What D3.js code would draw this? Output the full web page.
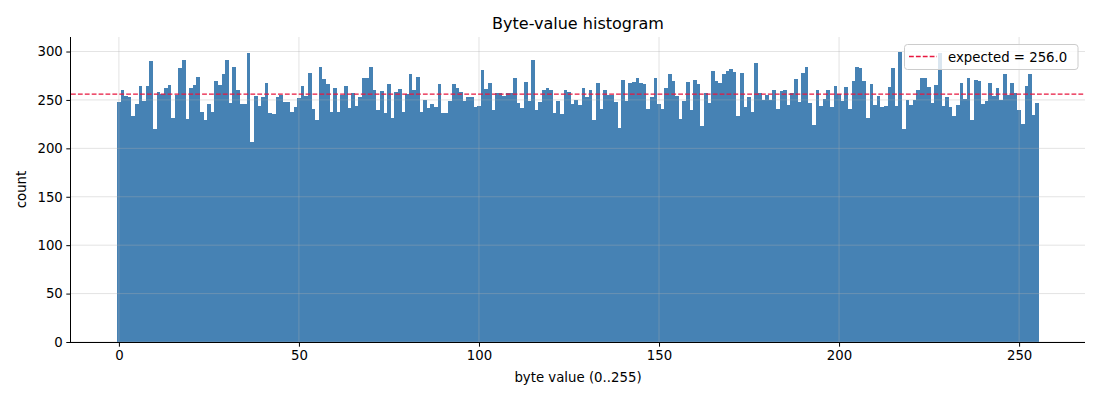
<!DOCTYPE html>
<html>
<head>
<meta charset="utf-8">
<script src="https://cdn.jsdelivr.net/npm/d3@7"></script>
<style>
  html, body { margin: 0; padding: 0; background: #fff; }
  svg { display: block; font-family: "DejaVu Sans", sans-serif; }
</style>
</head>
<body>
<svg id="chart" width="1100" height="400"></svg>
<script>
// ---- data ----
const counts = [
  248,260,254,253,233,246,264,249,264,290,220,258,256,262,265,231,
  255,283,291,230,262,265,274,238,229,246,238,270,265,277,291,247,
  284,260,246,246,298,207,254,244,253,268,237,235,253,255,248,248,
  238,243,252,264,254,278,241,229,284,272,266,238,262,238,255,264,
  242,257,244,253,273,273,284,260,240,259,236,266,231,258,261,238,
  256,277,260,274,238,250,242,246,243,266,237,237,249,266,262,258,
  249,253,253,243,244,281,261,268,240,257,257,254,257,257,273,247,
  242,269,249,291,240,248,260,262,260,236,249,235,260,258,246,250,
  245,262,253,260,229,268,241,260,255,255,248,221,271,249,268,269,
  273,267,266,241,253,273,246,241,262,277,270,254,230,249,269,240,
  271,266,223,257,247,280,270,268,277,280,282,279,233,278,243,253,
  238,288,257,250,255,250,260,241,259,260,245,257,272,248,278,284,
  247,224,260,244,251,260,243,264,256,249,263,241,270,284,283,270,
  231,266,245,254,243,244,263,283,244,300,220,250,245,250,260,273,
  273,263,247,265,298,244,253,243,233,245,267,251,273,229,271,270,
  246,249,267,254,262,250,277,255,267,257,240,225,264,277,234,247
];
const byteValues = d3.range(256);
const expected = 256.0;
const xTicks = [0, 50, 100, 150, 200, 250];
const yTicks = [0, 50, 100, 150, 200, 250, 300];
const title = "Byte-value histogram";
const xLabel = "byte value (0..255)";
const yLabel = "count";
const legendLabel = "expected = " + expected.toFixed(1);

// ---- layout ----
const svg = d3.select("#chart");
const L = 71, R = 1085, T = 37, B = 342;
const x = d3.scaleLinear().domain([-13.3, 268.3]).range([L, R]);
const y = d3.scaleLinear().domain([0, 315]).range([B, T]);

const barColor = "#4682b4";
const gridColor = "#b0b0b0";

// bars
svg.append("g").selectAll("rect").data(byteValues).join("rect")
  .attr("x", d => x(d - 0.5))
  .attr("width", d => x(d + 0.5) - x(d - 0.5))
  .attr("y", d => y(counts[d]))
  .attr("height", d => y(0) - y(counts[d]))
  .attr("fill", barColor)
  .attr("shape-rendering", "crispEdges");

// grid (above bars, like matplotlib default)
const grid = svg.append("g").attr("stroke", gridColor).attr("stroke-opacity", 0.35).attr("stroke-width", 1);
grid.selectAll("line.vx").data(xTicks).join("line")
  .attr("x1", d => x(d)).attr("x2", d => x(d)).attr("y1", T).attr("y2", B);
grid.selectAll("line.hy").data(yTicks).join("line")
  .attr("x1", L).attr("x2", R).attr("y1", d => y(d)).attr("y2", d => y(d));

// expected line
svg.append("line")
  .attr("x1", L).attr("x2", R)
  .attr("y1", y(expected)).attr("y2", y(expected))
  .attr("stroke", "#e8173f").attr("stroke-width", 1.3)
  .attr("stroke-dasharray", "4.8,2.1");

// axes
const xAxis = d3.axisBottom(x).tickValues(xTicks).tickSize(4.7).tickPadding(3.5).tickFormat(d3.format("d"));
const yAxis = d3.axisLeft(y).tickValues(yTicks).tickSize(4.7).tickPadding(3.5).tickFormat(d3.format("d"));

const gx = svg.append("g").attr("transform", `translate(0,${B})`).call(xAxis);
const gy = svg.append("g").attr("transform", `translate(${L},0)`).call(yAxis);
[gx, gy].forEach(g => {
  g.select(".domain").attr("stroke", "#000").attr("stroke-width", 1);
  g.selectAll(".tick line").attr("stroke", "#000").attr("stroke-width", 1);
  g.selectAll(".tick text").attr("fill", "#000").style("font-size", "13.3px").style("font-family", "DejaVu Sans");
});
gx.select(".domain").attr("d", `M${L},0.5H${R}`);
gy.select(".domain").attr("d", `M-0.5,${B}V${T}`);

// title & labels
svg.append("text").attr("x", (L + R) / 2).attr("y", 29)
  .attr("text-anchor", "middle").style("font-size", "16px").attr("fill", "#000").text(title);
svg.append("text").attr("x", (L + R) / 2).attr("y", 382)
  .attr("text-anchor", "middle").style("font-size", "13.3px").attr("fill", "#000").text(xLabel);
svg.append("text").attr("transform", `translate(26,${(T + B) / 2}) rotate(-90)`)
  .attr("text-anchor", "middle").style("font-size", "13.3px").attr("fill", "#000").text(yLabel);

// legend
const lg = svg.append("g");
lg.append("rect").attr("x", 904.5).attr("y", 44.5).attr("width", 173.5).attr("height", 25)
  .attr("rx", 3).attr("fill", "#fff").attr("fill-opacity", 0.8)
  .attr("stroke", "#cccccc").attr("stroke-width", 1);
lg.append("line").attr("x1", 909).attr("x2", 937).attr("y1", 56.5).attr("y2", 56.5)
  .attr("stroke", "#e8173f").attr("stroke-width", 1.3).attr("stroke-dasharray", "4.8,2.1");
lg.append("text").attr("x", 948).attr("y", 61.5).style("font-size", "13.3px").attr("fill", "#000").text(legendLabel);
</script>
</body>
</html>
